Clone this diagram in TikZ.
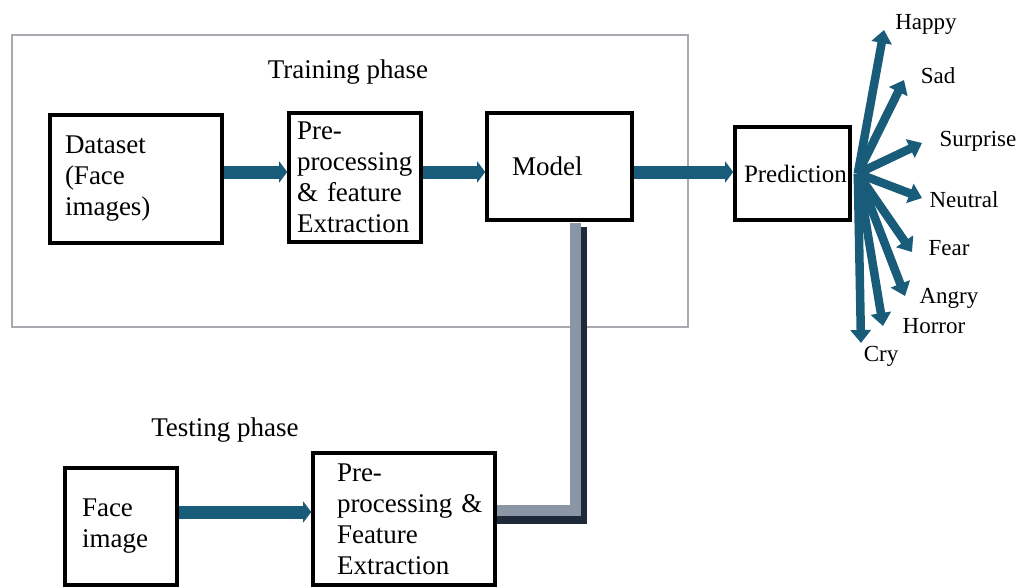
\documentclass[tikz,border=0pt]{standalone}
\usepackage{fontspec}
\setmainfont{Liberation Serif}
\usetikzlibrary{arrows.meta}
\definecolor{flow}{RGB}{24,92,122}
\definecolor{barlight}{RGB}{138,149,165}
\definecolor{bardark}{RGB}{30,42,58}
\definecolor{framegray}{RGB}{168,170,176}
\tikzset{
  box/.style={draw=black, line width=3.6pt, align=left, inner ysep=0pt,
    font=\fontsize{27}{31}\selectfont},
  phase/.style={font=\fontsize{27}{31}\selectfont, inner sep=0pt},
  emo/.style={font=\fontsize{23}{27}\selectfont, inner sep=0pt},
  flowarrow/.style={draw=flow, line width=13pt,
    -{Triangle[length=8pt,width=21pt]}},
  fanarrow/.style={draw=flow, line width=8.5pt,
    -{Triangle[length=13pt,width=20pt]}},
  barlightline/.style={draw=barlight, line width=11pt},
  bardarkline/.style={draw=bardark, line width=11pt},
}
\begin{document}
\begin{tikzpicture}[x=1pt, y=-1pt]
\useasboundingbox (0,0) rectangle (1024,587);

% training frame
\draw[framegray, line width=1.6pt] (12,35) rectangle (688,327);
\node[phase] (train) at (348,72) {Training phase};
\node[phase] (test) at (225,430) {Testing phase};

% training blocks
\node[box, inner xsep=15pt, text width=142pt, minimum height=128pt] (ds) at (136,179)
  {Dataset\\(Face\\images)};
\node[box, inner xsep=8pt, text width=116pt, minimum height=129pt] (pre1) at (355,177.5)
  {Pre-\\\mbox{processing}\\\mbox{\& feature}\\\mbox{Extraction}};
\node[box, inner xsep=25pt, text width=95pt, minimum height=107pt] (model) at (559.5,166.5)
  {Model};
\node[box, inner xsep=9pt, text width=97pt, minimum height=93pt,
  font=\fontsize{25}{29}\selectfont] (pred) at (792.5,173.5)
  {\mbox{Prediction}};

% testing blocks
\node[box, inner xsep=17pt, text width=78pt, minimum height=117pt] (face) at (121,526.5)
  {Face\\image};
\node[box, inner xsep=24pt, text width=134pt, minimum height=132pt] (pre2) at (404,519)
  {Pre-\\\mbox{processing \&}\\Feature\\\mbox{Extraction}};

% flow arrows
\coordinate (rowA) at (0,172);
\coordinate (rowB) at (0,512);
\draw[flowarrow] (ds.east |- rowA) -- (pre1.west |- rowA);
\draw[flowarrow] (pre1.east |- rowA) -- (model.west |- rowA);
\draw[flowarrow] (model.east |- rowA) -- (pred.west |- rowA);
\draw[flowarrow] (face.east |- rowB) -- (pre2.west |- rowB);

% model feeds the testing pipeline: shaded bar
\coordinate (lb) at (575,510);
\coordinate (db) at (581,518);
\draw[bardarkline, shorten >=5pt] (pre2.east |- db) -- (db) -- (db |- model.south);
\draw[barlightline, shorten >=1pt] (pre2.east |- lb) -- (lb) -- (lb |- model.south);

% emotion labels
\node[emo] (happy) at (926,24) {Happy};
\node[emo] (sad) at (938,76) {Sad};
\node[emo] (surprise) at (978,141) {Surprise};
\node[emo] (neutral) at (964,200) {Neutral};
\node[emo] (fear) at (949,248) {Fear};
\node[emo] (angry) at (949,298) {Angry};
\node[emo] (horror) at (934,326) {Horror};
\node[emo] (cry) at (881,356) {Cry};

% fan of predictions
\coordinate (fan) at ([xshift=6pt]pred.east);
\coordinate (tHappy) at (884,30);
\coordinate (tSad) at (904,80);
\coordinate (tSurprise) at (922,143);
\coordinate (tNeutral) at (922,198);
\coordinate (tFear) at (912,252);
\coordinate (tAngry) at (905,296);
\coordinate (tHorror) at (883,326);
\coordinate (tCry) at (861,343);
\foreach \t in {tHappy,tSad,tSurprise,tNeutral,tFear,tAngry,tHorror,tCry}
  \draw[fanarrow] (fan) -- (\t);
\end{tikzpicture}
\end{document}
